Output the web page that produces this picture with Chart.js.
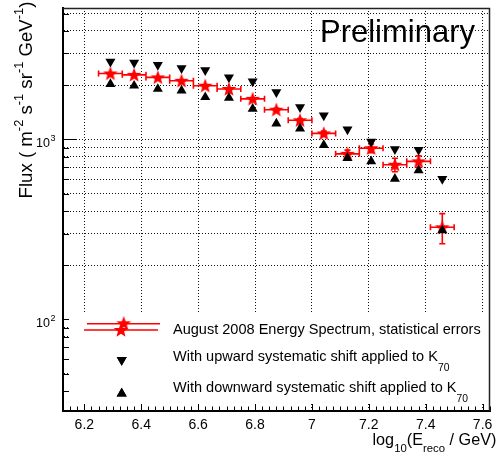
<!DOCTYPE html>
<html>
<head>
<meta charset="utf-8">
<script src="https://cdn.jsdelivr.net/npm/chart.js@4.4.1/dist/chart.umd.min.js"></script>
<style>
  html, body { margin: 0; padding: 0; background: #fff; }
  canvas { display: block; }
</style>
</head>
<body>
<canvas id="spectrum" width="498" height="458"></canvas>
<script>
// bin centres, log10(E_reco / GeV)
const ENERGY = [6.2917, 6.375, 6.4583, 6.5417, 6.625, 6.7083, 6.7917, 6.875,
                6.9583, 7.0417, 7.125, 7.2083, 7.2917, 7.375, 7.4583];
const HALF_BIN = 1 / 24;

// August 2008 spectrum + statistical errors
const FLUX     = [2322, 2282, 2208, 2115, 1986, 1905, 1679, 1461, 1276, 1079, 831, 893, 723, 755, 325];
const FLUX_ERR = [20, 20, 20, 22, 22, 25, 25, 28, 30, 32, 40, 50, 62, 55, 62];

// systematic shifts of K70
const FLUX_UP   = [2702, 2668, 2588, 2483, 2421, 2208, 2099, 1827, 1511, 1359, 1135, 971, 881, 874, 603];
const FLUX_DOWN = [2029, 1986, 1905, 1864, 1715, 1700, 1479, 1224, 1149, 930, 787, 755, 603, 673, 312];

// axes
const X_MIN = 6.125, X_MAX = 7.626, X_MINOR_STEP = 0.025;
const X_TICK_VALUES = [6.2, 6.4, 6.6, 6.8, 7.0, 7.2, 7.4, 7.6];
const X_TICK_LABELS = ['6.2', '6.4', '6.6', '6.8', '7', '7.2', '7.4', '7.6'];
const Y_MIN = 31, Y_MAX = 5365;
const Y_TICKS = [40, 50, 60, 70, 80, 90, 100, 200, 300, 400, 500, 600, 700, 800, 900,
                 1000, 2000, 3000, 4000, 5000];
const Y_LABELLED = [100, 1000];
const Y_LABEL_EXP = ['2', '3'];

const FONT = '"Liberation Sans", Arial, Helvetica, sans-serif';
const RED = '#ff0000';
const GRID = '#111';

function isMajorX(v) {
    return X_TICK_VALUES.some(t => Math.abs(t - v) < 1e-6);
}

function buildXTicks() {
    const ticks = [];
    const n = Math.round((X_MAX - X_MIN) / X_MINOR_STEP);
    for (let k = 0; k <= n; k++) ticks.push({ value: +(X_MIN + k * X_MINOR_STEP).toFixed(4) });
    return ticks;
}

function starImage(size, color) {
    const c = document.createElement('canvas');
    c.width = c.height = size;
    const g = c.getContext('2d');
    const cx = size / 2, cy = size / 2 + 0.5, ro = size / 2 - 0.3, ri = ro * 0.42;
    g.beginPath();
    for (let i = 0; i < 10; i++) {
        const r = i % 2 ? ri : ro;
        const a = -Math.PI / 2 + i * Math.PI / 5;
        g.lineTo(cx + r * Math.cos(a), cy + r * Math.sin(a));
    }
    g.closePath();
    g.fillStyle = color;
    g.fill();
    return c;
}
const STAR_SIZE = 16;
const STAR = starImage(STAR_SIZE, RED);

// rich text helpers (sub/superscripts)
function richWidth(ctx, parts, k) {
    let w = 0;
    parts.forEach(p => { ctx.font = `${p.s * k}px ${FONT}`; w += ctx.measureText(p.t).width; });
    return w;
}
function drawRich(ctx, parts, x, y, k) {
    parts.forEach(p => {
        ctx.font = `${p.s * k}px ${FONT}`;
        ctx.fillText(p.t, x, y + (p.dy || 0) * k);
        x += ctx.measureText(p.t).width;
    });
}
function fitScale(ctx, parts, target) {
    return target / richWidth(ctx, parts, 1);
}

const Y_TITLE = [
    { t: 'Flux ( m', s: 16 }, { t: '-2', s: 11, dy: -7 },
    { t: ' s', s: 16 }, { t: '-1', s: 11, dy: -7 },
    { t: ' sr', s: 16 }, { t: '-1', s: 11, dy: -7 },
    { t: ' GeV', s: 16 }, { t: '-1', s: 11, dy: -7 },
    { t: ')', s: 16 },
];
const X_TITLE = [
    { t: 'log', s: 15 }, { t: '10', s: 10.5, dy: 7 },
    { t: '(E', s: 15 }, { t: 'reco', s: 10.5, dy: 7 },
    { t: ' / GeV)', s: 15 },
];
const LEGEND_ROWS = [
    [{ t: 'August 2008 Energy Spectrum, statistical errors', s: 12 }],
    [{ t: 'With upward systematic shift applied to K', s: 12 }, { t: '70', s: 8.5, dy: 8 }],
    [{ t: 'With downward systematic shift applied to K', s: 12 }, { t: '70', s: 8.5, dy: 8 }],
];

const rootStyle = {
    id: 'rootStyle',
    beforeDatasetsDraw(chart) {
        const { ctx, chartArea: a, scales: { x, y } } = chart;
        ctx.save();

        // tick marks point into the frame
        ctx.strokeStyle = '#000';
        ctx.lineWidth = 1;
        ctx.beginPath();
        x.ticks.forEach(t => {
            const px = Math.round(x.getPixelForValue(t.value)) + 0.5;
            const len = isMajorX(t.value) ? 8 : 4.5;
            ctx.moveTo(px, a.bottom);
            ctx.lineTo(px, a.bottom - len);
        });
        y.ticks.forEach(t => {
            const py = Math.round(y.getPixelForValue(t.value)) + 0.5;
            const len = Y_LABELLED.includes(t.value) ? 13 : 6;
            ctx.moveTo(a.left, py);
            ctx.lineTo(a.left + len, py);
        });
        ctx.stroke();

        // legend box hides the grid
        ctx.fillStyle = '#fff';
        ctx.fillRect(69, 313, 426, 91);

        // bin widths and statistical errors
        ctx.strokeStyle = RED;
        ctx.lineWidth = 1.6;
        ctx.beginPath();
        ENERGY.forEach((e, i) => {
            const cx = x.getPixelForValue(e), cy = y.getPixelForValue(FLUX[i]);
            const xl = x.getPixelForValue(e - HALF_BIN), xr = x.getPixelForValue(e + HALF_BIN);
            const yt = y.getPixelForValue(FLUX[i] + FLUX_ERR[i]);
            const yb = y.getPixelForValue(FLUX[i] - FLUX_ERR[i]);
            ctx.moveTo(xl, cy); ctx.lineTo(xr, cy);
            ctx.moveTo(xl, cy - 3); ctx.lineTo(xl, cy + 3);
            ctx.moveTo(xr, cy - 3); ctx.lineTo(xr, cy + 3);
            ctx.moveTo(cx, yt); ctx.lineTo(cx, yb);
            ctx.moveTo(cx - 3, yt); ctx.lineTo(cx + 3, yt);
            ctx.moveTo(cx - 3, yb); ctx.lineTo(cx + 3, yb);
        });
        ctx.stroke();
        ctx.restore();
    },
    afterDraw(chart) {
        const { ctx, chartArea: a, scales: { y } } = chart;
        ctx.save();

        // top and right sides of the frame
        ctx.strokeStyle = '#222';
        ctx.lineWidth = 1.5;
        ctx.beginPath();
        ctx.moveTo(a.left, a.top + 0.5);
        ctx.lineTo(a.right - 0.5, a.top + 0.5);
        ctx.lineTo(a.right - 0.5, a.bottom);
        ctx.stroke();

        ctx.fillStyle = '#000';
        ctx.textBaseline = 'alphabetic';
        ctx.textAlign = 'left';

        // y tick labels 10^2, 10^3
        Y_LABELLED.forEach((v, i) => {
            const py = y.getPixelForValue(v);
            ctx.font = `12.5px ${FONT}`;
            ctx.fillText('10', 36, py + 8);
            ctx.font = `9px ${FONT}`;
            ctx.fillText(Y_LABEL_EXP[i], 50.5, py + 2);
        });

        // legend
        ctx.strokeStyle = RED;
        ctx.lineWidth = 1.6;
        ctx.beginPath();
        ctx.moveTo(87, 323.7); ctx.lineTo(160, 323.7);
        ctx.moveTo(84, 330);   ctx.lineTo(158, 330);
        ctx.stroke();
        ctx.drawImage(STAR, 123.7 - STAR_SIZE / 2, 323.3 - STAR_SIZE / 2);
        ctx.drawImage(STAR, 121 - STAR_SIZE / 2, 330 - STAR_SIZE / 2);
        ctx.fillStyle = '#000';
        Chart.helpers.drawPoint(ctx, { pointStyle: 'triangle', rotation: 180, radius: 5.8, borderWidth: 0 }, 121.7, 360);
        ctx.fill();
        ctx.beginPath();
        Chart.helpers.drawPoint(ctx, { pointStyle: 'triangle', rotation: 0, radius: 5.8, borderWidth: 0 }, 121.7, 393.5);
        ctx.fill();

        const kl = fitScale(ctx, LEGEND_ROWS[0], 308);
        drawRich(ctx, LEGEND_ROWS[0], 173, 334.3, kl);
        drawRich(ctx, LEGEND_ROWS[1], 173, 361, kl);
        drawRich(ctx, LEGEND_ROWS[2], 173, 392, kl);

        // Preliminary
        ctx.font = `28px ${FONT}`;
        const pw = ctx.measureText('Preliminary').width;
        ctx.font = `${28 * 155 / pw}px ${FONT}`;
        ctx.fillText('Preliminary', 320, 41.7);

        // x title, right aligned
        const kx = fitScale(ctx, X_TITLE, 124);
        drawRich(ctx, X_TITLE, 372.5, 444.5, kx);

        // y title, rotated
        const ky = fitScale(ctx, Y_TITLE, 197);
        ctx.translate(31.5, 198.5);
        ctx.rotate(-Math.PI / 2);
        drawRich(ctx, Y_TITLE, 0, 0, ky);

        ctx.restore();
    },
};

const points = ys => ENERGY.map((e, i) => ({ x: e, y: ys[i] }));

new Chart(document.getElementById('spectrum'), {
    type: 'scatter',
    data: {
        datasets: [
            {
                label: 'With upward systematic shift applied to K70',
                data: points(FLUX_UP),
                pointStyle: 'triangle', rotation: 180, pointRadius: 5.8,
                backgroundColor: '#000', borderWidth: 0,
            },
            {
                label: 'With downward systematic shift applied to K70',
                data: points(FLUX_DOWN),
                pointStyle: 'triangle', rotation: 0, pointRadius: 5.8,
                backgroundColor: '#000', borderWidth: 0,
            },
            {
                label: 'August 2008 Energy Spectrum, statistical errors',
                data: points(FLUX),
                pointStyle: STAR, pointRadius: 8,
                backgroundColor: RED, borderWidth: 0,
            },
        ],
    },
    options: {
        responsive: false,
        animation: false,
        devicePixelRatio: 1,
        layout: { padding: { top: 3, right: 2, left: 0, bottom: 0 } },
        plugins: { legend: { display: false }, tooltip: { enabled: false } },
        scales: {
            x: {
                type: 'linear', min: X_MIN, max: X_MAX,
                afterBuildTicks: s => { s.ticks = buildXTicks(); },
                afterFit: s => { s.height = 47; s.paddingLeft = 0; s.paddingRight = 0; },
                ticks: {
                    autoSkip: false, maxRotation: 0, minRotation: 0, padding: 6,
                    color: '#000', font: { family: FONT, size: 14 },
                    callback: v => {
                        const i = X_TICK_VALUES.findIndex(t => Math.abs(t - v) < 1e-6);
                        return i >= 0 ? X_TICK_LABELS[i] : '';
                    },
                },
                grid: {
                    drawTicks: false, lineWidth: 1,
                    color: c => (c.tick && isMajorX(c.tick.value)) ? GRID : 'rgba(0,0,0,0)',
                },
                border: { display: true, color: '#000', width: 2, dash: [1, 2] },
            },
            y: {
                type: 'logarithmic', min: Y_MIN, max: Y_MAX,
                afterBuildTicks: s => { s.ticks = Y_TICKS.map(v => ({ value: v })); },
                afterFit: s => { s.width = 63; },
                ticks: { display: false },
                grid: { drawTicks: false, lineWidth: 1, color: GRID },
                border: { display: true, color: '#000', width: 2, dash: [1, 2] },
            },
        },
    },
    plugins: [rootStyle],
});
</script>
</body>
</html>
